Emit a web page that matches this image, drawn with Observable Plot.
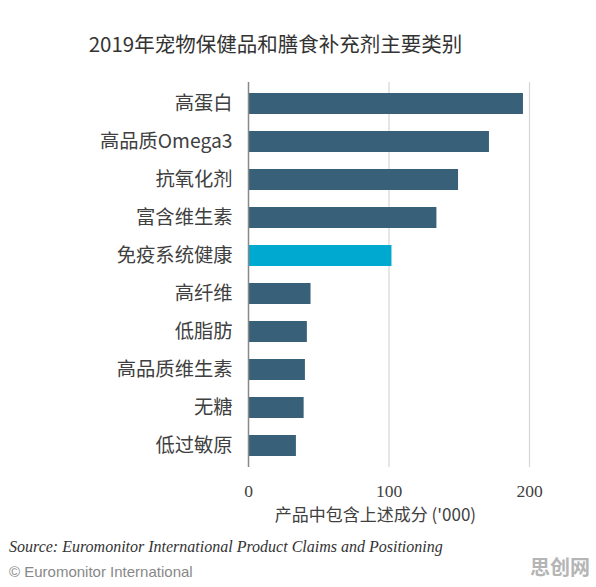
<!DOCTYPE html>
<html>
<head>
<meta charset="utf-8">
<script src="https://cdn.jsdelivr.net/npm/d3@7"></script>
<script src="https://cdn.jsdelivr.net/npm/@observablehq/plot@0.6"></script>
<style>
  html, body { margin: 0; padding: 0; background: #fff; }
  #wrap { position: relative; width: 596px; height: 587px; overflow: hidden; }
  #title { position: absolute; top: 33px; left: 0; width: 551px; text-align: center;
    font: 20.5px/1 'Noto Sans CJK SC', sans-serif; color: #333; white-space: nowrap; }
  #chart { position: absolute; top: 70px; left: 0; }
  #source { position: absolute; top: 539px; left: 9px; font: italic 16px/1 'Liberation Serif', serif; color: #333; white-space: nowrap; }
  #copy { position: absolute; top: 564px; left: 9px; font: 15px/1 'Liberation Sans', sans-serif; color: #888; white-space: nowrap; }
  #mark { position: absolute; top: 557px; right: 6px; font: bold 20px/1 'Noto Sans CJK SC', sans-serif; color: #b5b5b5; }
</style>
</head>
<body>
<div id="wrap">
  <div id="title">2019年宠物保健品和膳食补充剂主要类别</div>
  <div id="chart"></div>
  <div id="source">Source: Euromonitor International Product Claims and Positioning</div>
  <div id="copy">© Euromonitor International</div>
  <div id="mark">思创网</div>
</div>
<script>
const categories = ["高蛋白", "高品质Omega3", "抗氧化剂", "富含维生素", "免疫系统健康", "高纤维", "低脂肪", "高品质维生素", "无糖", "低过敏原"];
const values = [195.7, 171.5, 149.5, 134.1, 102.1, 44.5, 41.9, 40.5, 39.6, 34.1];
const highlighted = ["免疫系统健康"];
const xTicks = [0, 100, 200];
const xLabel = "产品中包含上述成分 ('000)";

const data = categories.map((name, i) => ({name, value: values[i]}));
const darkBlue = "#386079";
const cyan = "#00a9cf";

const chart = Plot.plot({
  width: 596,
  height: 457,
  marginLeft: 248,
  marginRight: 67,
  marginTop: 12,
  marginBottom: 60,
  style: {fontFamily: "'Noto Sans CJK SC', sans-serif", color: "#404040", background: "#fff"},
  x: {domain: [0, 200]},
  y: {domain: categories, paddingInner: 0.44, paddingOuter: 0.22},
  marks: [
    Plot.gridX([100, 200], {stroke: "#d6d6d6", strokeOpacity: 1, strokeWidth: 1.2}),
    Plot.barX(data, {x: "value", y: "name", fill: d => highlighted.includes(d.name) ? cyan : darkBlue}),
    Plot.ruleX([0], {stroke: "#888", strokeWidth: 1.5}),
    Plot.axisY({tickSize: 0, tickPadding: 16, fontSize: 19.3, label: null}),
    Plot.axisX({ticks: xTicks, tickSize: 0, tickPadding: 17, fontSize: 17.5, fontFamily: "'Liberation Serif', serif", label: null, tickFormat: d => String(d)}),
    Plot.text([xLabel], {frameAnchor: "bottom", dy: 48.5, dx: -13.6, fontSize: 17, lineAnchor: "middle", text: d => d})
  ]
});
document.getElementById("chart").appendChild(chart);
</script>
</body>
</html>
